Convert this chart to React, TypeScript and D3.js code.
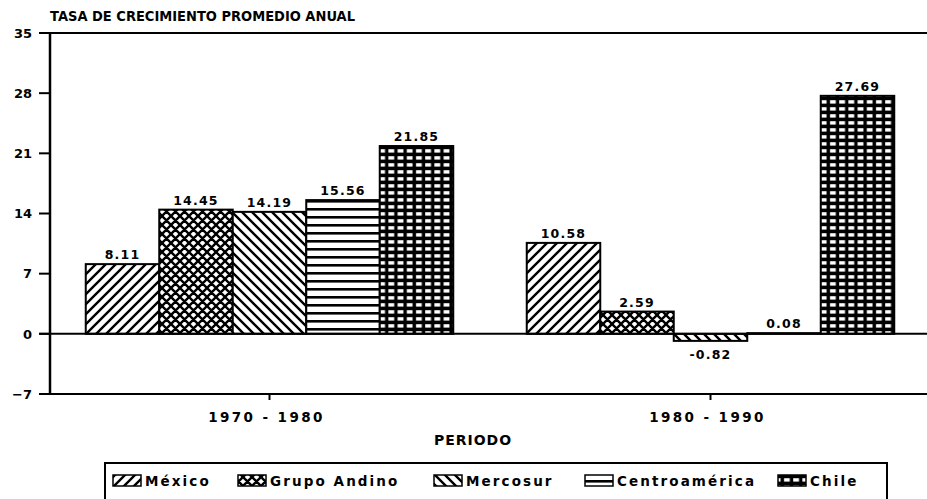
import React from "react";
import * as d3 from "d3";

const periods = ["1970 - 1980", "1980 - 1990"];
const seriesNames = ["México", "Grupo Andino", "Mercosur", "Centroamérica", "Chile"];
const seriesKeys = ["mexico", "andino", "mercosur", "centro", "chile"];
const mexico = [8.11, 10.58];
const andino = [14.45, 2.59];
const mercosur = [14.19, -0.82];
const centro = [15.56, 0.08];
const chile = [21.85, 27.69];
const valueLabels = [
  ["8.11", "10.58"],
  ["14.45", "2.59"],
  ["14.19", "-0.82"],
  ["15.56", "0.08"],
  ["21.85", "27.69"],
];
const yTicks = [-7, 0, 7, 14, 21, 28, 35];
const legendX = [113, 238, 434, 585, 778];

const seriesValues = [mexico, andino, mercosur, centro, chile];

const W = 927;
const H = 499;
const FONT = "'DejaVu Sans', 'Liberation Sans', Arial, sans-serif";

export default function App() {
  const left = 50;
  const right = 927;
  const y = d3.scaleLinear().domain([-7, 35]).range([394, 33]);
  const x0 = d3.scaleBand<string>().domain(periods).range([49, 931]).padding(0);
  const x1 = d3
    .scaleBand<string>()
    .domain(seriesKeys)
    .range([0, x0.bandwidth()])
    .paddingInner(0)
    .paddingOuter(0.5);

  const data = periods.flatMap((p, pi) =>
    seriesKeys.map((k, si) => ({
      period: p,
      key: k,
      value: seriesValues[si][pi],
      label: valueLabels[si][pi],
    }))
  );

  return (
    <svg
      width={W}
      height={H}
      style={{ position: "absolute", left: 0, top: 0, background: "#fff" }}
      fontFamily={FONT}
      fontWeight="bold"
    >
      <defs>
        <pattern id="p-mexico" patternUnits="userSpaceOnUse" width={10} height={10}>
          <rect width={10} height={10} fill="#fff" />
          <path d="M-5,5 L5,-5 M0,10 L10,0 M5,15 L15,5" stroke="#000" strokeWidth={2.4} />
        </pattern>
        <pattern id="p-andino" patternUnits="userSpaceOnUse" width={9} height={9}>
          <rect width={9} height={9} fill="#fff" />
          <path
            d="M-4.5,4.5 L4.5,-4.5 M0,9 L9,0 M4.5,13.5 L13.5,4.5 M-4.5,4.5 L4.5,13.5 M0,0 L9,9 M4.5,-4.5 L13.5,4.5"
            stroke="#000"
            strokeWidth={2.4}
          />
        </pattern>
        <pattern id="p-mercosur" patternUnits="userSpaceOnUse" width={10} height={10}>
          <rect width={10} height={10} fill="#fff" />
          <path d="M-5,5 L5,15 M0,0 L10,10 M5,-5 L15,5" stroke="#000" strokeWidth={2.4} />
        </pattern>
        <pattern id="p-centro" patternUnits="userSpaceOnUse" width={10} height={8}>
          <rect width={10} height={8} fill="#fff" />
          <rect y={0} width={10} height={2.6} fill="#000" />
        </pattern>
        <pattern id="p-chile" patternUnits="userSpaceOnUse" width={9.2} height={7}>
          <rect width={9.2} height={7} fill="#000" />
          <rect x={2} y={2.2} width={5.8} height={3.4} fill="#fff" />
        </pattern>
      </defs>

      {/* title */}
      <text x={50} y={21} fontSize={14.5} textLength={305} lengthAdjust="spacingAndGlyphs">
        TASA DE CRECIMIENTO PROMEDIO ANUAL
      </text>

      {/* bars */}
      {data.map((d, i) => {
        const bx = (x0(d.period) ?? 0) + (x1(d.key) ?? 0);
        const bw = x1.bandwidth();
        const y0 = y(0);
        const yv = y(d.value);
        const top = Math.min(y0, yv);
        const h = Math.abs(y0 - yv);
        return (
          <g key={i}>
            <rect
              x={bx}
              y={top}
              width={bw}
              height={h}
              fill={`url(#p-${d.key})`}
              stroke="#000"
              strokeWidth={2}
            />
            <text
              x={bx + bw / 2}
              y={d.value >= 0 ? yv - 5 : yv + 18}
              textAnchor="middle"
              fontSize={12.5}
              letterSpacing={1.2}
            >
              {d.label}
            </text>
          </g>
        );
      })}

      {/* frame lines */}
      <line x1={39} x2={right} y1={y(35)} y2={y(35)} stroke="#000" strokeWidth={2} />
      <line x1={39} x2={right} y1={y(0)} y2={y(0)} stroke="#000" strokeWidth={2} />
      <line x1={39} x2={right} y1={y(-7)} y2={y(-7)} stroke="#000" strokeWidth={2} />
      <line x1={left} x2={left} y1={y(35)} y2={y(-7)} stroke="#000" strokeWidth={2.5} />

      {/* y ticks */}
      {yTicks.map((t) => (
        <g key={t}>
          <line x1={39} x2={left} y1={y(t)} y2={y(t)} stroke="#000" strokeWidth={2} />
          <text x={32} y={y(t)} dy="0.36em" textAnchor="end" fontSize={13}>
            {t < 0 ? `−${Math.abs(t)}` : t}
          </text>
        </g>
      ))}

      {/* x ticks */}
      {periods.map((p) => {
        const cx = (x0(p) ?? 0) + x0.bandwidth() / 2;
        return (
          <g key={p}>
            <line x1={cx} x2={cx} y1={y(-7)} y2={y(-7) + 6} stroke="#000" strokeWidth={2} />
            <text x={cx - 3} y={422} textAnchor="middle" fontSize={13.5} letterSpacing={2.4}>
              {p}
            </text>
          </g>
        );
      })}

      <text x={473} y={445} textAnchor="middle" fontSize={14} letterSpacing={1}>
        PERIODO
      </text>

      {/* legend */}
      <rect x={105} y={463} width={782} height={45} fill="none" stroke="#000" strokeWidth={2} />
      {seriesKeys.map((k, i) => (
        <g key={k}>
          <rect
            x={legendX[i]}
            y={475}
            width={28}
            height={11}
            fill={`url(#p-${k})`}
            stroke="#000"
            strokeWidth={1.5}
          />
          <text x={legendX[i] + 32} y={486} fontSize={13.5} letterSpacing={2.1}>
            {seriesNames[i]}
          </text>
        </g>
      ))}
    </svg>
  );
}
